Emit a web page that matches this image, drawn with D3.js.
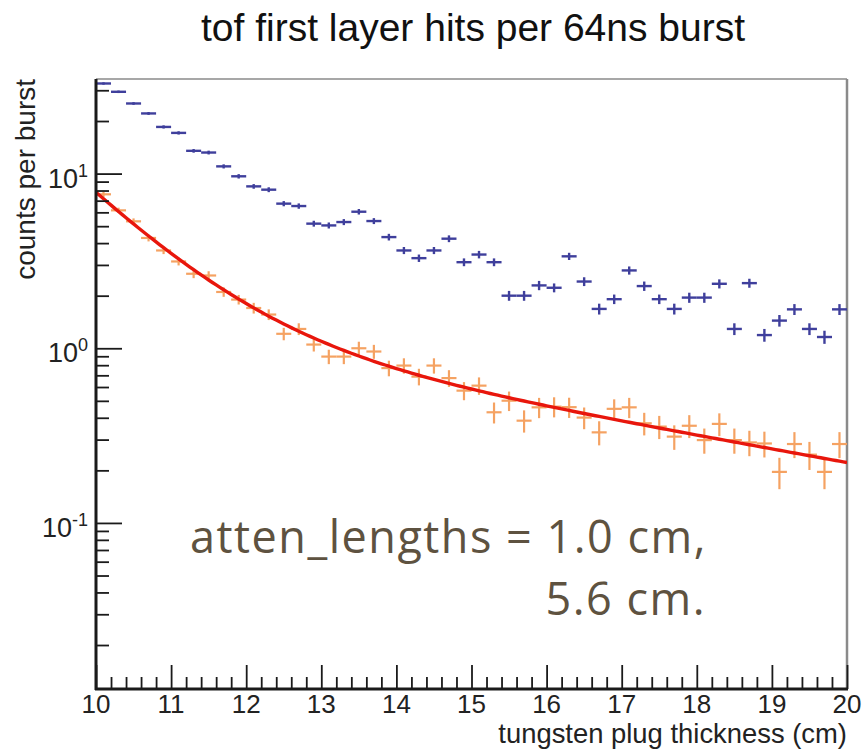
<!DOCTYPE html>
<html>
<head>
<meta charset="utf-8">
<script src="https://cdn.jsdelivr.net/npm/d3@7"></script>
<style>
  html, body { margin: 0; padding: 0; background: #fff; }
  svg { display: block; }
</style>
</head>
<body>
<svg id="chart" width="865" height="749"></svg>
<script>
// Histogram bin centres (cm), bin width 0.2 cm
const binCenters = [
  10.1, 10.3, 10.5, 10.7, 10.9, 11.1, 11.3, 11.5, 11.7, 11.9,
  12.1, 12.3, 12.5, 12.7, 12.9, 13.1, 13.3, 13.5, 13.7, 13.9,
  14.1, 14.3, 14.5, 14.7, 14.9, 15.1, 15.3, 15.5, 15.7, 15.9,
  16.1, 16.3, 16.5, 16.7, 16.9, 17.1, 17.3, 17.5, 17.7, 17.9,
  18.1, 18.3, 18.5, 18.7, 18.9, 19.1, 19.3, 19.5, 19.7, 19.9
];
const binWidth = 0.2;

// Upper series (blue): counts per burst and errors
const upperCounts = [
  32.8, 29.4, 25.2, 22.1, 18.5, 17.1, 13.5, 13.2, 11.0, 9.65,
  8.45, 8.09, 6.73, 6.52, 5.17, 5.05, 5.28, 6.05, 5.35, 4.33,
  3.63, 3.28, 3.63, 4.24, 3.11, 3.44, 3.11, 2.00, 2.00, 2.29,
  2.22, 3.36, 2.41, 1.68, 1.91, 2.79, 2.27, 1.91, 1.68, 1.95,
  1.95, 2.34, 1.29, 2.36, 1.19, 1.44, 1.67, 1.29, 1.16, 1.67
];
const upperErrors = [
  0.52, 0.49, 0.45, 0.42, 0.39, 0.37, 0.33, 0.33, 0.30, 0.28,
  0.26, 0.26, 0.23, 0.23, 0.20, 0.20, 0.21, 0.22, 0.21, 0.19,
  0.17, 0.16, 0.17, 0.19, 0.16, 0.17, 0.16, 0.13, 0.13, 0.14,
  0.13, 0.16, 0.14, 0.12, 0.12, 0.15, 0.14, 0.12, 0.12, 0.13,
  0.13, 0.14, 0.10, 0.14, 0.10, 0.11, 0.12, 0.10, 0.10, 0.12
];

// First-layer series (orange): counts per burst and errors
const firstLayerCounts = [
  7.61, 6.16, 5.33, 4.28, 3.63, 3.14, 2.67, 2.61, 2.10, 1.90,
  1.70, 1.56, 1.21, 1.29, 1.05, 0.896, 0.896, 1.00, 0.958, 0.770,
  0.796, 0.688, 0.796, 0.675, 0.572, 0.611, 0.430, 0.501, 0.385, 0.459,
  0.463, 0.460, 0.401, 0.330, 0.450, 0.459, 0.372, 0.356, 0.312, 0.360,
  0.298, 0.369, 0.298, 0.289, 0.285, 0.196, 0.283, 0.246, 0.196, 0.283
];
const firstLayerErrors = [
  0.25, 0.22, 0.21, 0.19, 0.17, 0.16, 0.15, 0.15, 0.13, 0.12,
  0.12, 0.11, 0.099, 0.10, 0.092, 0.085, 0.085, 0.090, 0.088, 0.079,
  0.080, 0.075, 0.080, 0.074, 0.068, 0.070, 0.059, 0.064, 0.056, 0.061,
  0.061, 0.061, 0.057, 0.052, 0.060, 0.061, 0.055, 0.054, 0.050, 0.054,
  0.049, 0.055, 0.049, 0.048, 0.048, 0.040, 0.048, 0.045, 0.040, 0.048
];

// Double-exponential fit: sum of amplitude * exp(-(x - 10) / length)
const fitAmplitudes = [6.5, 1.32];
const attenLengths = [1.0, 5.6];

const xTickValues = [10, 11, 12, 13, 14, 15, 16, 17, 18, 19, 20];
const xTickLabels = ["10", "11", "12", "13", "14", "15", "16", "17", "18", "19", "20"];
const yDecades = [0.1, 1, 10];
const yDecadeExponents = ["-1", "0", "1"];

const titleText = "tof first layer hits per 64ns burst";
const xTitleText = "tungsten plug thickness (cm)";
const yTitleText = "counts per burst";
const noteLines = ["atten_lengths = 1.0 cm,", "5.6 cm."];

// ---- layout ----
const frame = { left: 96, right: 847, top: 79, bottom: 689 };
const yDomain = [0.0112, 34.8];

const svg = d3.select("#chart");
const x = d3.scaleLinear().domain([10, 20]).range([frame.left, frame.right]);
const y = d3.scaleLog().domain(yDomain).range([frame.bottom, frame.top]);

const axisColor = "#1a1a1a";
const labelFont = "'Liberation Sans', Arial, Helvetica, sans-serif";

// Title
svg.append("text")
  .attr("x", 473).attr("y", 41)
  .attr("text-anchor", "middle")
  .attr("font-family", labelFont)
  .attr("font-size", 39)
  .attr("fill", "#111")
  .text(titleText);

// Frame top/right (grey)
svg.append("line")
  .attr("x1", frame.left).attr("x2", frame.right)
  .attr("y1", frame.top).attr("y2", frame.top)
  .attr("stroke", "#8a8a8a").attr("stroke-width", 1.5);
svg.append("line")
  .attr("x1", frame.right).attr("x2", frame.right)
  .attr("y1", frame.top).attr("y2", frame.bottom)
  .attr("stroke", "#8a8a8a").attr("stroke-width", 2.5);

// Clip for data marks
svg.append("clipPath").attr("id", "plotClip")
  .append("rect")
  .attr("x", frame.left).attr("y", frame.top)
  .attr("width", frame.right - frame.left)
  .attr("height", frame.bottom - frame.top);

const plot = svg.append("g").attr("clip-path", "url(#plotClip)");

function drawPoints(counts, errors, color, width) {
  const g = plot.append("g").attr("stroke", color).attr("stroke-width", width).attr("fill", "none");
  const data = binCenters.map((c, i) => ({ c, v: counts[i], e: errors[i] }));
  g.selectAll("line.h").data(data).join("line")
    .attr("class", "h")
    .attr("x1", d => x(d.c - binWidth / 2)).attr("x2", d => x(d.c + binWidth / 2))
    .attr("y1", d => y(d.v)).attr("y2", d => y(d.v));
  g.selectAll("line.v").data(data).join("line")
    .attr("class", "v")
    .attr("x1", d => x(d.c)).attr("x2", d => x(d.c))
    .attr("y1", d => y(d.v - d.e)).attr("y2", d => y(d.v + d.e));
}

drawPoints(upperCounts, upperErrors, "#3f3f9c", 2.4);
drawPoints(firstLayerCounts, firstLayerErrors, "#f5a262", 2.2);

// Fit curve
const fitFn = t => fitAmplitudes[0] * Math.exp(-(t - 10) / attenLengths[0]) +
                   fitAmplitudes[1] * Math.exp(-(t - 10) / attenLengths[1]);
const fitXs = d3.range(10, 20.0001, 0.05);
plot.append("path")
  .datum(fitXs)
  .attr("fill", "none")
  .attr("stroke", "#e8160c")
  .attr("stroke-width", 3.4)
  .attr("stroke-linejoin", "round")
  .attr("d", d3.line().x(t => x(t)).y(t => y(fitFn(t))));

// X axis: minor and major ticks pointing up into the frame
const xMinor = d3.range(0, 51).map(i => 10 + i * 0.2).filter(v => Math.abs(v - Math.round(v)) > 1e-6);
const xAxisG = svg.append("g").attr("transform", `translate(0,${frame.bottom})`);
xAxisG.append("g").call(d3.axisTop(x).tickValues(xMinor).tickSize(12).tickFormat(""))
  .call(g => g.select(".domain").remove());
xAxisG.append("g").call(d3.axisTop(x).tickValues(xTickValues).tickSize(24).tickFormat(""))
  .call(g => g.select(".domain").remove());
xAxisG.selectAll(".tick line").attr("stroke", axisColor).attr("stroke-width", 1.8);
xAxisG.append("line")
  .attr("x1", frame.left - 1).attr("x2", frame.right + 1)
  .attr("stroke", axisColor).attr("stroke-width", 3);
xAxisG.selectAll("text.xl").data(xTickValues).join("text")
  .attr("class", "xl")
  .attr("x", d => x(d)).attr("y", 23.5)
  .attr("text-anchor", "middle")
  .attr("font-family", labelFont)
  .attr("font-size", 26)
  .attr("fill", "#222")
  .text((d, i) => xTickLabels[i]);

// Y axis: log ticks pointing right into the frame
const yMinor = [];
[0.01, 0.1, 1, 10].forEach(dec => {
  for (let m = 2; m <= 9; m++) {
    const v = dec * m;
    if (v >= yDomain[0] && v <= yDomain[1]) yMinor.push(v);
  }
});
const yAxisG = svg.append("g").attr("transform", `translate(${frame.left},0)`);
yAxisG.append("g").call(d3.axisRight(y).tickValues(yMinor).tickSize(13).tickFormat(""))
  .call(g => g.select(".domain").remove());
yAxisG.append("g").call(d3.axisRight(y).tickValues(yDecades).tickSize(26).tickFormat(""))
  .call(g => g.select(".domain").remove());
yAxisG.selectAll(".tick line").attr("stroke", axisColor).attr("stroke-width", 1.8);
yAxisG.append("line")
  .attr("y1", frame.top).attr("y2", frame.bottom + 1)
  .attr("stroke", axisColor).attr("stroke-width", 3);

const yLabels = svg.append("g");
yDecades.forEach((v, i) => {
  const t = yLabels.append("text")
    .attr("x", 88).attr("y", y(v) + 14)
    .attr("text-anchor", "end")
    .attr("font-family", labelFont)
    .attr("font-size", 27)
    .attr("fill", "#222");
  t.append("tspan").text("10");
  t.append("tspan").attr("dy", -11).attr("font-size", 18).text(yDecadeExponents[i]);
});

// Axis titles
svg.append("text")
  .attr("x", frame.right).attr("y", 743)
  .attr("text-anchor", "end")
  .attr("font-family", labelFont)
  .attr("font-size", 27.4)
  .attr("fill", "#222")
  .text(xTitleText);
svg.append("text")
  .attr("transform", `translate(35,${frame.top}) rotate(-90)`)
  .attr("text-anchor", "end")
  .attr("font-family", labelFont)
  .attr("font-size", 28)
  .attr("fill", "#222")
  .text(yTitleText);

// Fit annotation: two-line label, second line right-aligned
const note = svg.append("text")
  .attr("font-family", "'Open Sans', 'Noto Sans', sans-serif")
  .attr("font-size", 45)
  .attr("letter-spacing", 1.5)
  .attr("fill", "#5e5240");
note.append("tspan").attr("x", 190).attr("y", 553).text(noteLines[0]);
note.append("tspan").attr("x", 706).attr("y", 615).attr("text-anchor", "end").text(noteLines[1]);
</script>
</body>
</html>
